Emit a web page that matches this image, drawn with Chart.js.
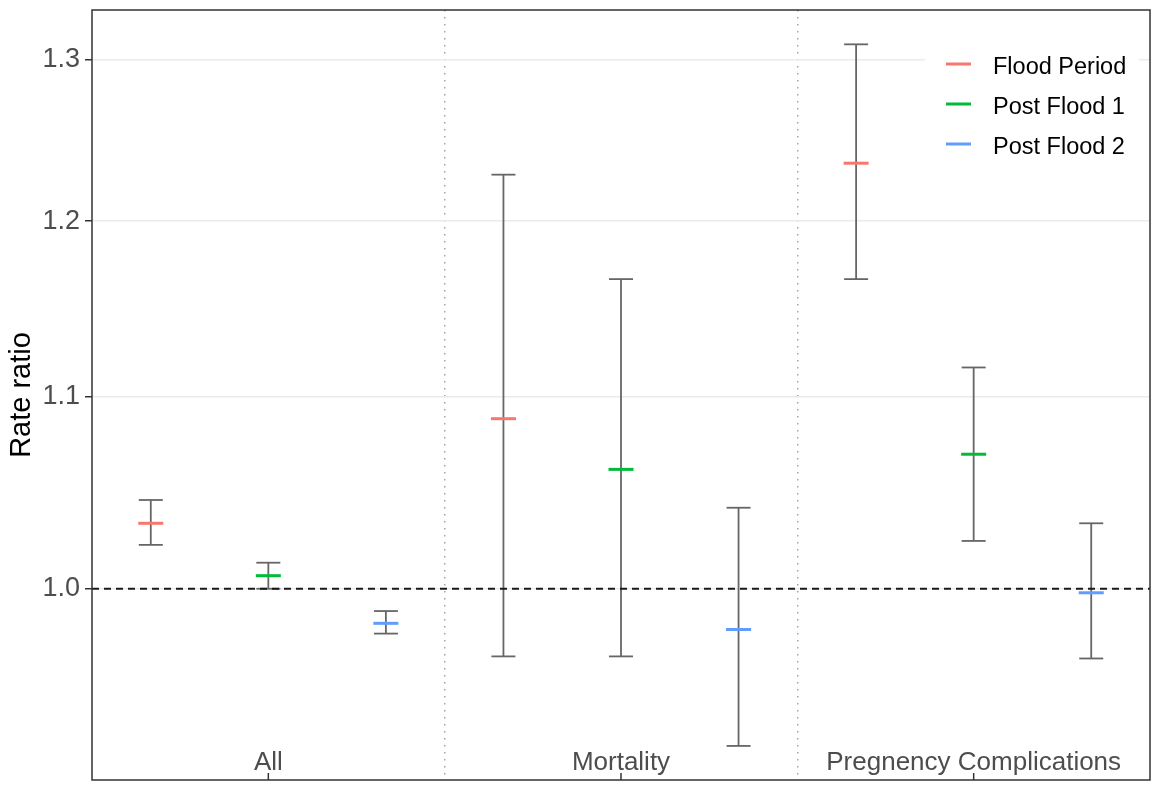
<!DOCTYPE html>
<html>
<head>
<meta charset="utf-8">
<title>Rate ratio by period</title>
<script src="https://cdn.jsdelivr.net/npm/chart.js@4/dist/chart.umd.min.js"></script>
<style>
  body { margin: 0; background: #fff; }
  #wrap { width: 1161px; height: 787px; }
</style>
</head>
<body>
<div id="wrap"><canvas id="rr-chart" width="1161" height="787"></canvas></div>
<script>
// categories along the x axis
const categories = ['All', 'Mortality', 'Pregnency Complications'];

// the three periods, one colour each
const periods = ['Flood Period', 'Post Flood 1', 'Post Flood 2'];
const periodColors = ['#F8766D', '#00BA38', '#619CFF'];

// rate ratios with lower / upper limits, one value per category
const floodRate = [1.033, 1.088, 1.235];
const floodLow = [1.022, 0.967, 1.166];
const floodHigh = [1.045, 1.228, 1.310];

const post1Rate = [1.0065, 1.061, 1.069];
const post1Low = [1.000, 0.967, 1.024];
const post1High = [1.013, 1.166, 1.116];

const post2Rate = [0.983, 0.980, 0.998];
const post2Low = [0.978, 0.925, 0.966];
const post2High = [0.989, 1.041, 1.033];

// y axis (log scale)
const yTicks = [1.0, 1.1, 1.2, 1.3];
const yMin = 0.9095;
const yMax = 1.3325;
const refValue = 1;

const FONT = "'Liberation Sans', Arial, sans-serif";
const barColor = '#666666';

const rates = [floodRate, post1Rate, post2Rate];
const lows = [floodLow, post1Low, post2Low];
const highs = [floodHigh, post1High, post2High];
// dodge of the three periods inside each category
const dodge = [-1 / 3, 0, 1 / 3];

const datasets = [];

// coloured point estimates
periods.forEach((name, s) => {
  datasets.push({
    type: 'scatter',
    label: name,
    order: 0,
    data: categories.map((c, i) => ({ x: i + dodge[s], y: rates[s][i] })),
    pointStyle: 'line',
    pointRadius: 12.5,
    pointBorderWidth: 3,
    pointBorderColor: periodColors[s],
    borderColor: periodColors[s],
    backgroundColor: periodColors[s]
  });
});

// dashed reference line at 1
datasets.push({
  type: 'line',
  label: 'ref',
  order: 1,
  data: [{ x: -0.5, y: refValue }, { x: 2.5, y: refValue }],
  borderColor: '#1a1a1a',
  borderWidth: 1.8,
  borderDash: [7, 5],
  pointRadius: 0
});

periods.forEach((name, s) => {
  // caps at both ends
  const caps = [];
  // vertical whiskers, broken by a null point between categories
  const whiskers = [];
  categories.forEach((c, i) => {
    const x = i + dodge[s];
    caps.push({ x: x, y: lows[s][i] }, { x: x, y: highs[s][i] });
    whiskers.push({ x: x, y: lows[s][i] }, { x: x, y: highs[s][i] }, { x: x, y: null });
  });
  datasets.push({
    type: 'scatter',
    label: name + ' caps',
    order: 2,
    data: caps,
    pointStyle: 'line',
    pointRadius: 12,
    pointBorderWidth: 1.8,
    pointBorderColor: barColor,
    borderColor: barColor
  });
  datasets.push({
    type: 'line',
    label: name + ' ci',
    order: 3,
    data: whiskers,
    borderColor: barColor,
    borderWidth: 1.8,
    pointRadius: 0,
    spanGaps: false
  });
});

// panel border, category labels inside the panel, and the legend
const panelDecor = {
  id: 'panelDecor',
  afterDraw(chart) {
    const { ctx, chartArea: a } = chart;
    const x = chart.scales.x;
    ctx.save();

    // category labels + short ticks
    ctx.font = `26px ${FONT}`;
    ctx.fillStyle = '#4d4d4d';
    ctx.textAlign = 'center';
    ctx.textBaseline = 'alphabetic';
    ctx.strokeStyle = '#333333';
    ctx.lineWidth = 1.5;
    categories.forEach((c, i) => {
      const px = x.getPixelForValue(i);
      ctx.fillText(c, px, a.bottom - 10);
      ctx.beginPath();
      ctx.moveTo(px, a.bottom - 7);
      ctx.lineTo(px, a.bottom);
      ctx.stroke();
    });

    // panel border
    ctx.strokeRect(a.left, a.top, a.right - a.left, a.bottom - a.top);

    // legend
    const lx = a.right - 225;
    ctx.fillStyle = '#ffffff';
    ctx.fillRect(lx, a.top + 32, 214, 126);
    ctx.font = `23.5px ${FONT}`;
    ctx.textAlign = 'left';
    periods.forEach((p, s) => {
      const ry = a.top + 54 + s * 40;
      ctx.strokeStyle = periodColors[s];
      ctx.lineWidth = 3;
      ctx.beginPath();
      ctx.moveTo(lx + 21, ry);
      ctx.lineTo(lx + 46, ry);
      ctx.stroke();
      ctx.fillStyle = '#000000';
      ctx.fillText(p, lx + 68, ry + 9.5);
    });
    ctx.restore();
  }
};

const chartElement = document.getElementById('rr-chart').getContext('2d');

new Chart(chartElement, {
  data: { datasets: datasets },
  options: {
    responsive: false,
    animation: false,
    events: [],
    layout: { autoPadding: false, padding: { left: 0, right: 11, top: 10, bottom: 7 } },
    plugins: {
      legend: { display: false },
      tooltip: { enabled: false }
    },
    scales: {
      x: {
        type: 'linear',
        min: -0.5,
        max: 2.5,
        afterBuildTicks: scale => { scale.ticks = [0.5, 1.5].map(v => ({ value: v })); },
        ticks: { display: false },
        grid: { color: '#a3a3a3', lineWidth: 1.5, drawTicks: false },
        border: { display: false, dash: [1.5, 5.5] },
        afterFit: scale => {
          scale.height = 0;
        }
      },
      y: {
        type: 'logarithmic',
        min: yMin,
        max: yMax,
        afterBuildTicks: scale => { scale.ticks = yTicks.map(v => ({ value: v })); },
        ticks: {
          callback: v => Number(v).toFixed(1),
          color: '#4d4d4d',
          // tiny line height so the labels do not pad the chart area
          font: { family: FONT, size: 27, lineHeight: '2px' },
          padding: 5,
          autoSkip: false
        },
        grid: { color: '#ebebeb', lineWidth: 1.5, tickColor: '#333333', tickLength: 7, tickWidth: 1.5 },
        border: { display: false },
        title: {
          display: true,
          text: 'Rate ratio',
          color: '#000000',
          font: { family: FONT, size: 29 },
          padding: { top: 5, bottom: 0 }
        },
        afterFit: scale => {
          scale.width = 92;
        }
      }
    }
  },
  plugins: [panelDecor]
});
</script>
</body>
</html>
